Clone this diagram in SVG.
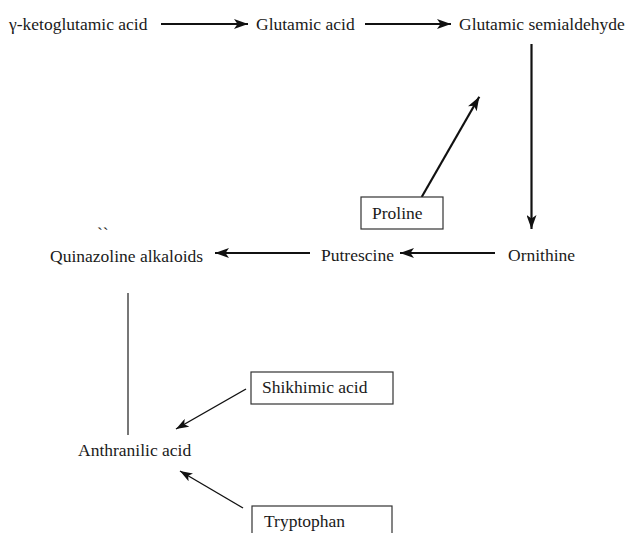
<svg xmlns="http://www.w3.org/2000/svg" width="627" height="533" viewBox="0 0 627 533">
<style>
text{font-family:"Liberation Serif","Times New Roman",serif;font-size:17.5px;fill:#1a1a1a}
.box{fill:#fff;stroke:#333;stroke-width:1.2}
.a{stroke:#111;stroke-width:2.2;fill:none}
.t{stroke:#111;stroke-width:1.4;fill:none}
.g{stroke:#555;stroke-width:1.6;fill:none}
</style>
<defs>
<marker id="ah" viewBox="0 0 14 10" refX="14" refY="5" markerWidth="14" markerHeight="10" markerUnits="userSpaceOnUse" orient="auto">
<path d="M0,0 L14,5 L0,10 L3.5,5 z" fill="#111"/>
</marker>
<marker id="ahs" viewBox="0 0 14 10" refX="14" refY="5" markerWidth="13" markerHeight="9" markerUnits="userSpaceOnUse" orient="auto">
<path d="M0,0 L14,5 L0,10 L3.5,5 z" fill="#111"/>
</marker>
</defs>
<g id="connectors">
<line class="a" x1="161" y1="24" x2="248" y2="24" marker-end="url(#ah)"/>
<line class="a" x1="365" y1="24" x2="451" y2="24" marker-end="url(#ah)"/>
<line class="a" x1="531.5" y1="44" x2="531.5" y2="229" marker-end="url(#ah)"/>
<line class="a" x1="421.7" y1="197" x2="479.3" y2="96.7" marker-end="url(#ah)"/>
<line class="a" x1="495" y1="253" x2="400" y2="253" marker-end="url(#ah)"/>
<line class="a" x1="310" y1="253" x2="215" y2="253" marker-end="url(#ah)"/>
<line class="g" x1="128" y1="293" x2="128" y2="435"/>
<line class="t" x1="246" y1="389" x2="176" y2="429" marker-end="url(#ahs)"/>
<line class="t" x1="243" y1="508" x2="180" y2="471" marker-end="url(#ahs)"/>
</g>
<g id="n-keto"><text x="9" y="30">γ-ketoglutamic acid</text></g>
<g id="n-glutamic"><text x="256" y="30">Glutamic acid</text></g>
<g id="n-semialdehyde"><text x="459" y="30">Glutamic semialdehyde</text></g>
<g id="n-proline"><rect class="box" x="361" y="197" width="82" height="32"/><text x="372" y="219">Proline</text></g>
<g id="n-ornithine"><text x="508" y="261">Ornithine</text></g>
<g id="n-putrescine"><text x="321" y="261">Putrescine</text></g>
<g id="n-quinazoline"><text x="50" y="262">Quinazoline alkaloids</text><text x="97" y="239">``</text></g>
<g id="n-anthranilic"><text x="78" y="456">Anthranilic acid</text></g>
<g id="n-shikhimic"><rect class="box" x="251" y="372" width="142" height="32"/><text x="262" y="393">Shikhimic acid</text></g>
<g id="n-tryptophan"><rect class="box" x="252" y="506" width="140" height="40"/><text x="264" y="527">Tryptophan</text></g>
</svg>
